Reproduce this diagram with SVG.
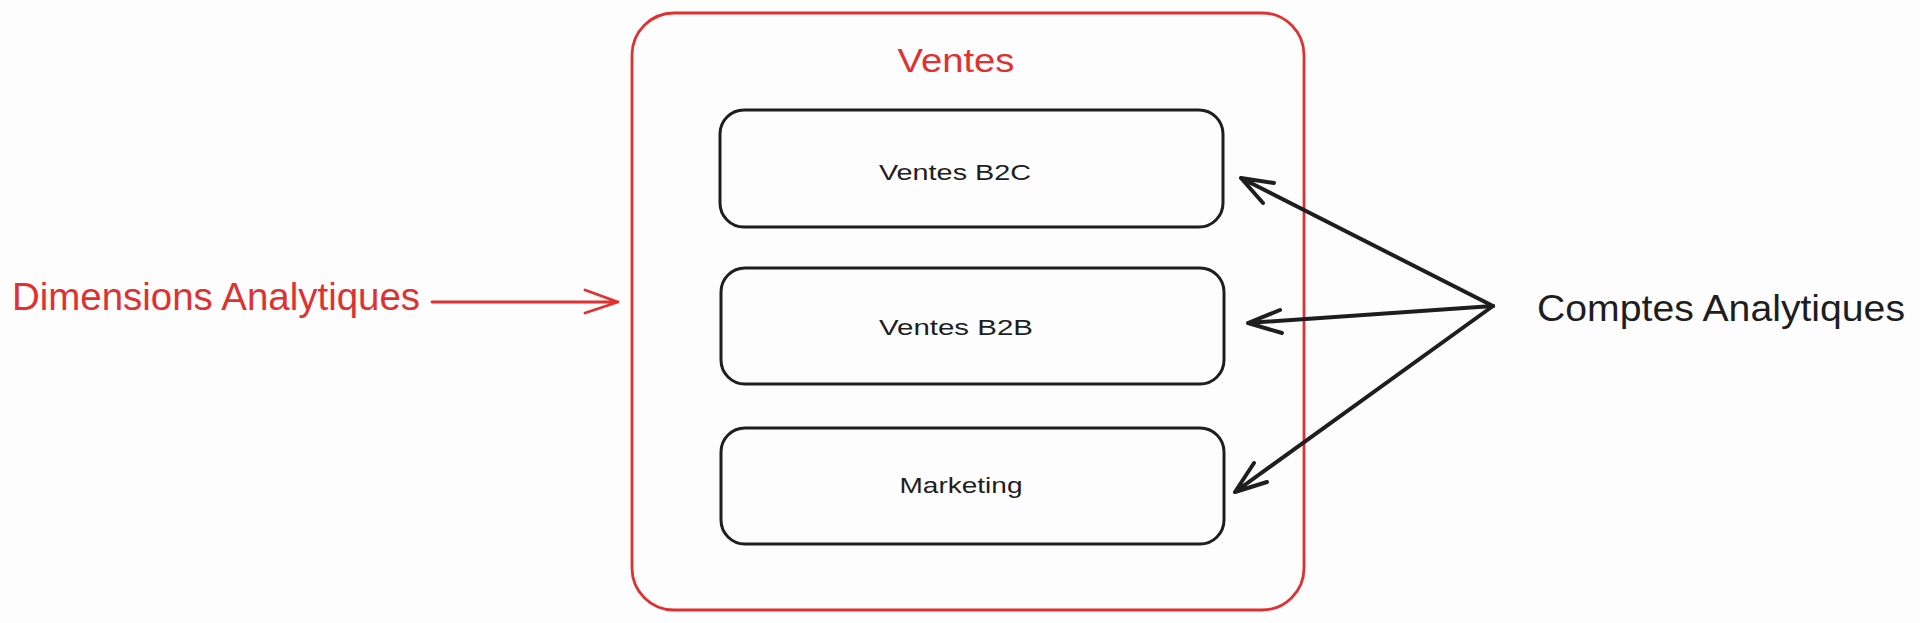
<svg xmlns="http://www.w3.org/2000/svg" width="1920" height="623" viewBox="0 0 1920 623">
<style>
.red{fill:none;stroke:#e03131;stroke-width:2.8;stroke-linecap:round;stroke-linejoin:round}
.box{fill:none;stroke:#1e1e1e;stroke-width:3}
.arr{fill:none;stroke:#1e1e1e;stroke-width:4;stroke-linecap:round;stroke-linejoin:round}
.t{font-family:"Liberation Sans","Noto Sans",sans-serif;fill:#1e1e1e}
.tr{font-family:"Liberation Sans","Noto Sans",sans-serif;fill:#e03131}
</style>
<rect width="1920" height="623" fill="#fdfdfd"/>
<g id="ventes">
<rect class="red" x="632" y="13" width="672" height="597" rx="42"/>
<text class="tr" x="956" y="72" font-size="34" text-anchor="middle" textLength="117" lengthAdjust="spacingAndGlyphs">Ventes</text>
</g>
<g id="ventes-b2c">
<rect class="box" x="720" y="110" width="503" height="117" rx="24"/>
<text class="t" x="955" y="180" font-size="22" text-anchor="middle" textLength="152" lengthAdjust="spacingAndGlyphs">Ventes B2C</text>
</g>
<g id="ventes-b2b">
<rect class="box" x="721" y="268" width="503" height="116" rx="24"/>
<text class="t" x="956" y="335" font-size="22" text-anchor="middle" textLength="154" lengthAdjust="spacingAndGlyphs">Ventes B2B</text>
</g>
<g id="marketing">
<rect class="box" x="721" y="428" width="503" height="116" rx="24"/>
<text class="t" x="961" y="493" font-size="22" text-anchor="middle" textLength="123" lengthAdjust="spacingAndGlyphs">Marketing</text>
</g>
<g id="dimensions">
<text class="tr" x="12" y="310" font-size="38" textLength="408" lengthAdjust="spacingAndGlyphs">Dimensions Analytiques</text>
</g>
<g id="comptes">
<text class="t" x="1537" y="321" font-size="36" textLength="368" lengthAdjust="spacingAndGlyphs">Comptes Analytiques</text>
</g>
<g id="connectors">
<path class="red" d="M432 302 L618 302 M585 290 L618 302 L585 313" stroke-width="3.2"/>
<path class="arr" d="M1493 306 L1241 178 M1274 183 L1241 178 L1263 203"/>
<path class="arr" d="M1493 306 L1248 323 M1280 310 L1248 323 L1282 333" stroke-width="4.5"/>
<path class="arr" d="M1493 306 L1235 492 M1254 463 L1235 492 L1267 482" stroke-width="3.3"/>
</g>
</svg>
